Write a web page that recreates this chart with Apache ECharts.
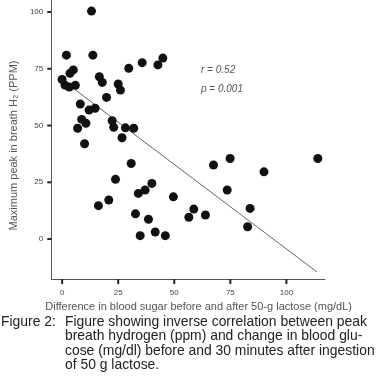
<!DOCTYPE html>
<html>
<head>
<meta charset="utf-8">
<script src="https://cdn.jsdelivr.net/npm/echarts@6/dist/echarts.min.js"></script>
<style>
  html, body { margin: 0; padding: 0; background: #fff; }
  #chart { width: 377px; height: 386px; }
</style>
</head>
<body>
<div id="chart"></div>
<script>
// glucose change (mg/dL) vs peak breath H2 (ppm)
var glucoseDiff = [
  13.1, 1.9, 13.7, 3.5, 5.0, 0.0, 1.3, 3.2, 5.9, 16.6,
  17.9, 25.0, 26.0, 19.8, 29.7, 35.7, 42.7, 44.9, 8.1, 12.0,
  14.7, 8.7, 10.6, 6.9, 22.3, 23.0, 28.2, 31.9, 26.7, 10.0,
  30.8, 23.8, 40.0, 37.0, 34.0, 20.8, 16.2, 32.7, 38.5, 34.8,
  41.5, 49.6, 46.0, 56.5, 58.7, 63.9, 67.5, 74.9, 73.6, 90.0,
  83.8, 82.7, 114.0
];
var peakH2 = [
  100.4, 81.0, 81.0, 73.0, 74.5, 70.3, 67.8, 67.0, 67.7, 71.5,
  69.0, 68.3, 65.6, 62.4, 75.2, 77.7, 76.7, 79.7, 59.5, 56.8,
  57.6, 52.7, 51.0, 48.8, 52.1, 49.2, 49.0, 48.8, 44.6, 42.0,
  33.3, 26.3, 24.5, 21.6, 20.1, 17.2, 14.7, 11.1, 8.7, 1.5,
  3.1, 18.6, 1.5, 9.6, 13.2, 10.6, 32.6, 35.5, 21.6, 29.6,
  13.5, 5.4, 35.5
];
// fitted line end points
var fitX = [0, 113.6];
var fitY = [70.1, -14.5];
var tickValues = [0, 25, 50, 75, 100];
var statsText = ['r = 0.52', 'p = 0.001'];
var captionLabel = 'Figure 2:';
var captionLines = [
  'Figure showing inverse correlation between peak',
  'breath hydrogen (ppm) and change in blood glu-',
  'cose (mg/dl) before and 30 minutes after ingestion',
  'of 50 g lactose.'
];

var xMin = -4.85, xMax = 117.2;
var yMin = -17.6, yMax = 105.3;

var points = glucoseDiff.map(function (x, i) { return [x, peakH2[i]]; });
var fitLine = fitX.map(function (x, i) { return [x, fitY[i]]; });

var chart = echarts.init(document.getElementById('chart'));

var axisFont = 'Liberation Sans, Arial, sans-serif';
var capFont = '13.9px Liberation Sans, Arial, sans-serif';

var graphics = [
  {
    type: 'text', left: 201, top: 65,
    style: { text: statsText[0], font: 'italic 10px Liberation Sans, Arial, sans-serif', fill: '#555' }
  },
  {
    type: 'text', left: 201, top: 84,
    style: { text: statsText[1], font: 'italic 10px Liberation Sans, Arial, sans-serif', fill: '#555' }
  },
  {
    type: 'text', left: 1, top: 315,
    style: { text: captionLabel, font: capFont, fill: '#222' }
  }
];
captionLines.forEach(function (line, i) {
  graphics.push({
    type: 'text', left: 65, top: 315 + i * 14.4,
    style: { text: line, font: capFont, fill: '#222' }
  });
});

var option = {
  animation: false,
  backgroundColor: '#fff',
  grid: { left: 48, top: 0, right: 52, bottom: 107, containLabel: false },
  xAxis: {
    type: 'value',
    min: xMin,
    max: xMax,
    name: 'Difference in blood sugar before and after 50-g lactose (mg/dL)',
    nameLocation: 'middle',
    nameGap: 21,
    nameTextStyle: { fontFamily: axisFont, fontSize: 11, color: '#555', padding: [0, 0, 0, 21] },
    axisLine: { onZero: false, lineStyle: { color: '#555', width: 1 } },
    axisTick: { show: false },
    axisLabel: { customValues: tickValues, fontFamily: axisFont, fontSize: 8, color: '#444', margin: 10 },
    splitLine: { show: false }
  },
  yAxis: {
    type: 'value',
    min: yMin,
    max: yMax,
    name: 'Maximum peak in breath H\u2082 (PPM)',
    nameLocation: 'middle',
    nameGap: 20,
    nameTextStyle: { fontFamily: axisFont, fontSize: 11, color: '#555', padding: [0, 12, 0, 0] },
    axisLine: { onZero: false, lineStyle: { color: '#555', width: 1 } },
    axisTick: { show: false },
    axisLabel: { customValues: tickValues, fontFamily: axisFont, fontSize: 8, color: '#444', margin: 8 },
    splitLine: { show: false }
  },
  series: [
    {
      type: 'line',
      data: fitLine,
      symbol: 'none',
      lineStyle: { color: '#666', width: 1 },
      z: 1
    },
    {
      type: 'scatter',
      data: points,
      symbol: 'circle',
      symbolSize: 9,
      itemStyle: { color: '#111', opacity: 1 },
      z: 2
    }
  ],
  graphic: graphics
};

chart.setOption(option);

// tick marks only at the labelled values, placed through the chart's own scales
var tickMarks = [];
tickValues.forEach(function (v) {
  var px = chart.convertToPixel({ gridIndex: 0 }, [v, yMin]);
  var py = chart.convertToPixel({ gridIndex: 0 }, [xMin, v]);
  tickMarks.push({
    type: 'line', z: 10,
    shape: { x1: px[0], y1: px[1], x2: px[0], y2: px[1] + 5 },
    style: { stroke: '#222', lineWidth: 2 }
  });
  tickMarks.push({
    type: 'line', z: 10,
    shape: { x1: py[0] - 4, y1: py[1], x2: py[0], y2: py[1] },
    style: { stroke: '#222', lineWidth: 2 }
  });
});
chart.setOption({ graphic: graphics.concat(tickMarks) });
</script>
</body>
</html>
